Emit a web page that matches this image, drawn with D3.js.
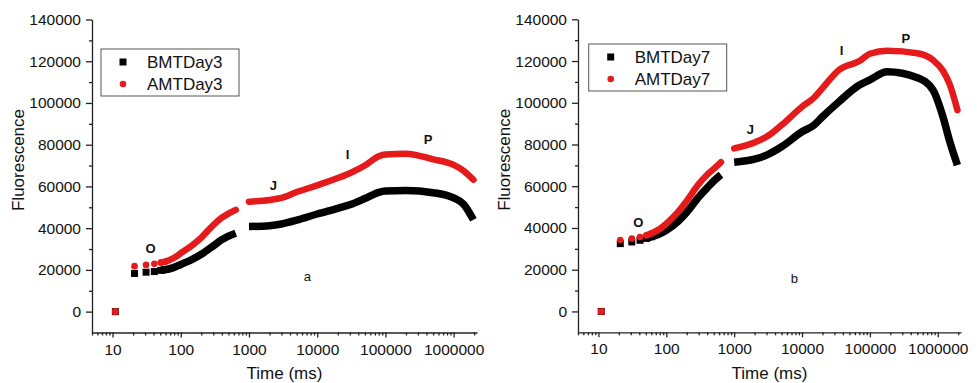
<!DOCTYPE html>
<html>
<head>
<meta charset="utf-8">
<script src="https://cdn.jsdelivr.net/npm/d3@7"></script>
<style>
  body { margin: 0; background: #fff; }
  svg { display: block; font-family: "Liberation Sans", Arial, sans-serif; }
</style>
</head>
<body>
<svg id="chart" width="977" height="383"></svg>
<script>
// time points (ms); the gap between ~640 and 1000 is in the original data
const timeEarly = [11, 21, 31, 41, 51, 61, 80, 100, 150, 200, 300, 400, 500, 640]
const timeLate3 = [1000, 2000, 3000, 5000, 10000, 20000, 30000, 50000, 80000, 100000, 200000, 500000, 1000000, 1400000, 1950000]
const timeLate7 = [1000, 2000, 3000, 5000, 10000, 15000, 20000, 35000, 70000, 100000, 180000, 500000, 850000, 1200000, 1500000, 1950000]

// panel a, day 3
const bmtDay3Early = [0, 18300, 18900, 19200, 19800, 20200, 21200, 22600, 25200, 27500, 31500, 34500, 36200, 37600]
const amtDay3Early = [0, 21800, 22400, 22900, 23500, 24100, 25800, 28000, 32000, 35500, 41500, 45000, 47000, 48800]
const bmtDay3Late = [40800, 41200, 42000, 43800, 46800, 49500, 51200, 54200, 57200, 57800, 58000, 57000, 54500, 51500, 44000]
const amtDay3Late = [52700, 53500, 54500, 57300, 60500, 64000, 66300, 70000, 74500, 75300, 75700, 73000, 70300, 67500, 63200]

// panel b, day 7
const bmtDay7Early = [0, 32500, 33300, 34100, 35000, 35800, 37200, 38900, 43200, 47500, 54800, 59200, 62500, 65500]
const amtDay7Early = [0, 34200, 34900, 35700, 36500, 37500, 39500, 42000, 47800, 53000, 61000, 65500, 68300, 71500]
const bmtDay7Late = [71500, 73000, 74900, 78900, 86100, 89300, 93300, 100500, 108500, 111000, 114900, 112000, 106100, 93000, 81500, 70100]
const amtDay7Late = [78100, 81000, 83700, 89300, 98100, 102400, 107000, 115700, 120000, 123500, 124900, 123700, 120500, 115200, 108800, 96500]

const yTicks = [0, 20000, 40000, 60000, 80000, 100000, 120000, 140000]
const xTicks = [10, 100, 1000, 10000, 100000, 1000000]

// OJIP labels: [text, time, fluorescence]
const phaseLabels3 = [["O", 36, 30500], ["J", 2270, 60300], ["I", 27900, 75600], ["P", 421000, 82800]]
const phaseLabels7 = [["O", 38.6, 42700], ["J", 1740, 87400], ["I", 38400, 125300], ["P", 338000, 131000]]
const panelTags = [["a", 7200, 17100], ["b", 7730, 15800]]

const BLACK = "#000"
const RED = "#e51b1b"
const AXIS = "#222"

const svg = d3.select("#chart")

function drawPanel(opts) {
    const width = opts.width, height = 313
    const g = svg.append("g").attr("transform", `translate(${opts.left}, ${opts.top})`)

    const x = d3.scaleLog().domain([5, 2.2e6]).range([0, width])
    const y = d3.scaleLinear().domain([-10000, 140000]).range([height, 0])

    // minor ticks
    const minorX = x.ticks().filter(t => !xTicks.includes(t))
    g.append("g")
        .attr("transform", `translate(0, ${height})`)
        .call(d3.axisBottom(x).tickValues(minorX).tickSize(3).tickFormat(""))
        .call(a => a.select(".domain").remove())
    g.append("g")
        .call(d3.axisLeft(y).tickValues(d3.range(10000, 140000, 20000)).tickSize(3).tickFormat(""))
        .call(a => a.select(".domain").remove())

    // major axes
    g.append("g")
        .attr("transform", `translate(0, ${height})`)
        .call(d3.axisBottom(x).tickValues(xTicks).tickSize(5).tickSizeOuter(0).tickPadding(6).tickFormat(d3.format("d")))
    g.append("g")
        .call(d3.axisLeft(y).tickValues(yTicks).tickSize(6).tickSizeOuter(0).tickPadding(5).tickFormat(d3.format("d")))

    g.selectAll(".domain, .tick line").attr("stroke", AXIS).attr("stroke-width", 1.3)
    g.selectAll(".tick text")
        .style("font-size", "15.5px")
        .style("fill", "#111")
        .style("font-family", "Liberation Sans, Arial, sans-serif")

    // titles
    g.append("text")
        .attr("x", width / 2)
        .attr("y", height + 46.5)
        .attr("text-anchor", "middle")
        .style("font-size", "17px")
        .style("fill", "#111")
        .text("Time (ms)")
    g.append("text")
        .attr("transform", `translate(${-68}, ${height / 2 - 16}) rotate(-90)`)
        .attr("text-anchor", "middle")
        .style("font-size", "17px")
        .style("fill", "#111")
        .text("Fluorescence")

    const line = d3.line()
        .x(d => x(d[0]))
        .y(d => y(d[1]))
        .curve(d3.curveMonotoneX)

    const series = [
        {early: opts.bmtEarly, late: opts.bmtLate, color: BLACK, width: 7.5, cap: "butt"},
        {early: opts.amtEarly, late: opts.amtLate, color: RED, width: 6.5, cap: "round"}
    ]

    series.forEach(s => {
        const early = d3.zip(timeEarly, s.early)
        const late = d3.zip(opts.timeLate, s.late)

        // dense stretches of points read as a thick band
        ;[early.slice(4), late].forEach(seg => {
            g.append("path")
                .datum(seg)
                .attr("d", line)
                .attr("fill", "none")
                .attr("stroke", s.color)
                .attr("stroke-width", s.width)
                .attr("stroke-linecap", s.cap)
        })

        const pts = g.append("g")
        if (s.color === BLACK) {
            pts.selectAll("rect")
                .data(early.slice(0, 6))
                .join("rect")
                .attr("x", d => x(d[0]) - 3.5)
                .attr("y", d => y(d[1]) - 3.5)
                .attr("width", 7)
                .attr("height", 7)
                .attr("fill", BLACK)
        } else {
            pts.selectAll("circle")
                .data(early.slice(0, 6))
                .join("circle")
                .attr("cx", d => x(d[0]))
                .attr("cy", d => y(d[1]))
                .attr("r", 3.3)
                .attr("fill", RED)
        }
    })

    // the first point (both at 0) shows as a red square
    g.append("rect")
        .datum([timeEarly[0], opts.amtEarly[0]])
        .attr("x", d => x(d[0]) - 3)
        .attr("y", d => y(d[1]) - 3)
        .attr("width", 6)
        .attr("height", 6)
        .attr("fill", RED)

    // phase labels
    g.selectAll("text.phase")
        .data(opts.phases)
        .join("text")
        .attr("class", "phase")
        .attr("x", d => x(d[1]))
        .attr("y", d => y(d[2]))
        .attr("dy", "0.36em")
        .attr("text-anchor", "middle")
        .style("font-size", "13px")
        .style("font-weight", "bold")
        .style("fill", "#111")
        .text(d => d[0])

    g.append("text")
        .datum(opts.tag)
        .attr("x", d => x(d[1]))
        .attr("y", d => y(d[2]))
        .attr("dy", "0.36em")
        .attr("text-anchor", "middle")
        .style("font-size", "13px")
        .style("fill", "#111")
        .text(d => d[0])

    // legend
    const lg = g.append("g").attr("transform", `translate(${opts.legendX}, ${opts.legendY})`)
    lg.append("rect")
        .attr("width", 138)
        .attr("height", 47)
        .attr("fill", "#fff")
        .attr("stroke", "#555")
        .attr("stroke-width", 1)
    lg.append("rect")
        .attr("x", 18.5).attr("y", 9.5)
        .attr("width", 7).attr("height", 7)
        .attr("fill", BLACK)
    lg.append("circle")
        .attr("cx", 22).attr("cy", 35)
        .attr("r", 3.3)
        .attr("fill", RED)
    lg.selectAll("text")
        .data(opts.names)
        .join("text")
        .attr("x", 46)
        .attr("y", (d, i) => 19 + i * 22)
        .style("font-size", "17px")
        .style("fill", "#111")
        .text(d => d)
}

drawPanel({
    left: 92, top: 19.5, width: 385,
    timeLate: timeLate3,
    bmtEarly: bmtDay3Early, amtEarly: amtDay3Early,
    bmtLate: bmtDay3Late, amtLate: amtDay3Late,
    phases: phaseLabels3, tag: panelTags[0],
    names: ["BMTDay3", "AMTDay3"],
    legendX: 9, legendY: 29.5
})

drawPanel({
    left: 578, top: 19.3, width: 383,
    timeLate: timeLate7,
    bmtEarly: bmtDay7Early, amtEarly: amtDay7Early,
    bmtLate: bmtDay7Late, amtLate: amtDay7Late,
    phases: phaseLabels7, tag: panelTags[1],
    names: ["BMTDay7", "AMTDay7"],
    legendX: 10.7, legendY: 24.7
})
</script>
</body>
</html>
